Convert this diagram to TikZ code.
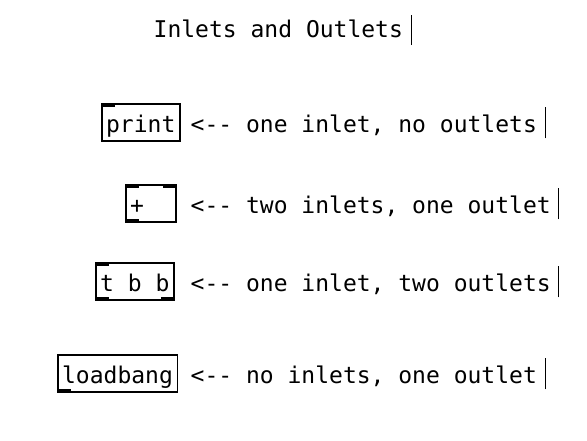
\documentclass[tikz,border=0pt]{standalone}
\usepackage{fontspec}
\newfontfamily\pdmono{DejaVu Sans Mono}
\usetikzlibrary{positioning}

\tikzset{
  obj/.style={draw, line width=1.5pt, anchor=north west, inner xsep=4.4pt, inner ysep=0pt,
    text height=28.5pt, text depth=8.5pt, font=\pdmono\fontsize{23}{23}\selectfont},
  cmt/.style={anchor=base west, inner sep=0pt, font=\pdmono\fontsize{23}{23}\selectfont},
  iolet/.style={fill=black},
  cbar/.style={line width=1pt},
}

\begin{document}
\begin{tikzpicture}[x=1pt,y=-1pt]
        \useasboundingbox (0,0) rectangle (587,440);
        %标题
        \node[cmt] (title) at (153.5,37) {Inlets and Outlets};
        \draw[cbar] ([xshift=8pt]title.base east) ++(0,8) -- ++(0,-30);
        %对象框
        \node[obj] (print) at (101,103) {print};
        \node[obj, text width=41.2pt] (plus) at (125,184) {+};
        \node[obj] (tbb) at (95,262) {t b b};
        \node[obj] (lbang) at (57,354) {loadbang};
        %入口与出口
        \fill[iolet] (print.north west) rectangle ++(14,4);
        \fill[iolet] (plus.north west) rectangle ++(14,4);
        \fill[iolet] (plus.north east) rectangle ++(-14,4);
        \fill[iolet] (plus.south west) rectangle ++(14,-4);
        \fill[iolet] (tbb.north west) rectangle ++(14,4);
        \fill[iolet] (tbb.south west) rectangle ++(14,-4);
        \fill[iolet] (tbb.south east) rectangle ++(-14,-4);
        \fill[iolet] (lbang.south west) rectangle ++(14,-4);
        %注释
        \node[cmt] (c1) at (190.5,0 |- print.base) {<-- one inlet, no outlets};
        \node[cmt] (c2) at (190.5,0 |- plus.base) {<-- two inlets, one outlet};
        \node[cmt] (c3) at (190.5,0 |- tbb.base) {<-- one inlet, two outlets};
        \node[cmt] (c4) at (190.5,0 |- lbang.base) {<-- no inlets, one outlet};
        \foreach \c in {c1,c2,c3,c4}
          \draw[cbar] ([xshift=8pt]\c.base east) ++(0,6) -- ++(0,-31);
\end{tikzpicture}
\end{document}
